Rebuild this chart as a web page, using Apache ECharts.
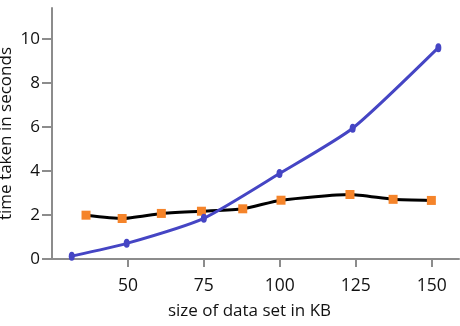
<!DOCTYPE html>
<html><head><meta charset="utf-8">
<script src="https://cdn.jsdelivr.net/npm/echarts@6/dist/echarts.min.js"></script>
<style>html,body{margin:0;padding:0;background:#fff}#c{width:460px;height:326px}</style>
</head><body><div id="c"></div>
<script>
const xAxisName = "size of data set in KB";
const yAxisName = "time taken in seconds";
const blueX = [31.5, 49.6, 75, 99.9, 124, 152.2];
const blueY = [0.13, 0.71, 1.85, 3.88, 5.94, 9.6];
const orangeX = [36.2, 48.1, 61.0, 74.2, 87.8, 100.4, 123.1, 137.3, 149.9];
const orangeY = [1.99, 1.84, 2.07, 2.17, 2.28, 2.67, 2.93, 2.71, 2.66];

const font = "Open Sans";
const chart = echarts.init(document.getElementById('c'));
chart.setOption({
  animation: false,
  backgroundColor: '#fff',
  grid: {left: 52, right: 1, top: 8, bottom: 67, containLabel: false, outerBoundsMode: 'none'},
  xAxis: {
    type: 'value', min: 25, max: 159, interval: 25,
    name: xAxisName, nameLocation: 'middle', nameGap: 44, nameMoveOverlap: false,
    nameTextStyle: {fontFamily: font, fontSize: 17, color: '#111', padding: [0, 12, 0, 0]},
    axisLine: {lineStyle: {color: '#8c8c8c', width: 2}},
    axisTick: {show: true, length: 8, lineStyle: {color: '#8c8c8c', width: 2}},
    axisLabel: {showMinLabel: false, showMaxLabel: false, margin: 18, fontFamily: font, fontSize: 17.5, color: '#111'},
    splitLine: {show: false}
  },
  yAxis: {
    type: 'value', min: 0, max: 11.4, interval: 2,
    name: yAxisName, nameLocation: 'middle', nameGap: 37, nameMoveOverlap: false,
    nameTextStyle: {fontFamily: font, fontSize: 17, color: '#111'},
    axisLine: {show: true, lineStyle: {color: '#8c8c8c', width: 2}},
    axisTick: {show: true, length: 10, lineStyle: {color: '#8c8c8c', width: 2}},
    axisLabel: {showMaxLabel: false, margin: 12, fontFamily: font, fontSize: 17, color: '#111'},
    splitLine: {show: false}
  },
  series: [
    {
      type: 'line', data: orangeX.map((x, i) => [x, orangeY[i]]),
      smooth: 0.2, symbol: 'rect', symbolSize: 9,
      lineStyle: {color: '#000', width: 3},
      itemStyle: {color: '#f5842a'}
    },
    {
      type: 'line', data: blueX.map((x, i) => [x, blueY[i]]),
      smooth: 0.2, symbol: 'circle', symbolSize: [6, 9],
      lineStyle: {color: '#4545c4', width: 3},
      itemStyle: {color: '#4545c4'}
    }
  ]
});
</script></body></html>
